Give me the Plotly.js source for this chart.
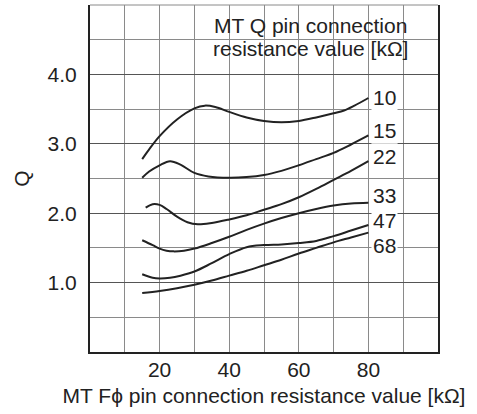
<!DOCTYPE html>
<html>
<head>
<meta charset="utf-8">
<script src="https://cdn.plot.ly/plotly-3.0.1.min.js"></script>
<style>html,body{margin:0;padding:0;background:#fff;}#chart{width:477px;height:414px;}</style>
</head>
<body>
<div id="chart"></div>
<script>
const seriesNames = ["10", "15", "22", "33", "47", "68"];

const x10 = [15, 17, 20, 25, 30, 33, 36, 40, 45, 50, 55, 60, 65, 70, 73, 76, 80];
const y10 = [2.78, 2.92, 3.11, 3.35, 3.51, 3.55, 3.53, 3.46, 3.38, 3.33, 3.31, 3.33, 3.38, 3.44, 3.48, 3.55, 3.66];

const x15 = [15, 17, 20, 23, 26, 30, 34, 40, 45, 50, 55, 60, 65, 70, 75, 80];
const y15 = [2.51, 2.60, 2.69, 2.75, 2.70, 2.58, 2.53, 2.51, 2.52, 2.55, 2.61, 2.69, 2.78, 2.87, 2.99, 3.12];

const x22 = [16, 18, 20, 22, 25, 28, 31, 35, 40, 45, 50, 55, 60, 65, 70, 75, 80];
const y22 = [2.08, 2.13, 2.12, 2.06, 1.95, 1.87, 1.84, 1.86, 1.91, 1.97, 2.05, 2.13, 2.23, 2.35, 2.48, 2.61, 2.75];

const x33 = [15, 18, 20, 22, 24, 27, 30, 35, 40, 45, 50, 55, 60, 65, 70, 75, 80];
const y33 = [1.61, 1.54, 1.49, 1.46, 1.45, 1.46, 1.49, 1.57, 1.66, 1.76, 1.85, 1.93, 2.00, 2.06, 2.11, 2.14, 2.15];

const x47 = [15, 18, 20, 23, 26, 30, 35, 40, 45, 50, 55, 60, 65, 70, 75, 80];
const y47 = [1.12, 1.07, 1.06, 1.07, 1.10, 1.16, 1.28, 1.41, 1.51, 1.54, 1.55, 1.57, 1.60, 1.67, 1.75, 1.83];

const x68 = [15, 20, 25, 30, 35, 40, 45, 50, 55, 60, 65, 70, 75, 80];
const y68 = [0.85, 0.88, 0.92, 0.97, 1.03, 1.10, 1.17, 1.25, 1.33, 1.42, 1.50, 1.58, 1.65, 1.72];

const labelY = [3.67, 3.19, 2.81, 2.25, 1.90, 1.54];

const xTickVals = [20, 40, 60, 80];
const yTickVals = [1, 2, 3, 4];
const yTickText = ["1.0", "2.0", "3.0", "4.0"];

const legendTitleLines = ["MT Q pin connection", "resistance value [kΩ]"];
const xTitle = "MT Fϕ pin connection resistance value [kΩ]";
const yTitle = "Q";

const xs = [x10, x15, x22, x33, x47, x68];
const ys = [y10, y15, y22, y33, y47, y68];

const FONT = "Liberation Sans, Arial, Helvetica, sans-serif";
const FS = 21;
const INK = "#222";

const traces = seriesNames.map((n, i) => ({
  type: "scatter", mode: "lines", name: n,
  x: xs[i], y: ys[i],
  line: {shape: "spline", smoothing: 1, color: INK, width: 2},
  hoverinfo: "skip", showlegend: false
}));

const annotations = seriesNames.map((n, i) => ({
  x: xs[i][xs[i].length - 1], y: labelY[i], xref: "x", yref: "y",
  text: n, showarrow: false, xanchor: "left", yanchor: "middle",
  xshift: 3, bgcolor: "#fff", borderpad: 1,
  font: {family: FONT, size: FS, color: INK}
}));
const legendY = [0.942, 0.876];
legendTitleLines.forEach((t, i) => annotations.push({
  xref: "paper", yref: "paper", x: 0.635, y: legendY[i], xanchor: "center", yanchor: "middle",
  text: t, showarrow: false,
  font: {family: FONT, size: FS, color: INK}
}));

const layout = {
  width: 477, height: 414,
  margin: {l: 90, r: 39, t: 5, b: 62},
  paper_bgcolor: "#fff", plot_bgcolor: "#fff",
  font: {family: FONT, size: FS, color: INK},
  showlegend: false,
  xaxis: {
    range: [0, 100], tickmode: "array", tickvals: xTickVals,
    showgrid: true, gridcolor: "#8a8a8a", gridwidth: 1,
    minor: {dtick: 10, showgrid: true, gridcolor: "#8a8a8a", gridwidth: 1},
    zeroline: false, showline: true, linecolor: "#222", linewidth: 2,
    ticks: "", ticklabelstandoff: -2,
    title: {text: xTitle, font: {family: FONT, size: FS, color: INK}, standoff: 8}
  },
  yaxis: {
    range: [0, 5], tickmode: "array", tickvals: yTickVals, ticktext: yTickText,
    showgrid: true, gridcolor: "#555", gridwidth: 1,
    minor: {dtick: 0.5, showgrid: true, gridcolor: "#8a8a8a", gridwidth: 1},
    zeroline: false, showline: true, mirror: true, linecolor: "#222", linewidth: 2,
    ticks: "", ticklabelstandoff: 7,
    title: {text: yTitle, font: {family: FONT, size: FS, color: INK}, standoff: 12}
  },
  shapes: [
    {type: "line", xref: "paper", yref: "paper", x0: 0, x1: 1, y0: 1, y1: 1,
     line: {color: "#8a8a8a", width: 1}, layer: "below"},
    {type: "rect", xref: "paper", yref: "paper", x0: 0.305, x1: 0.997, y0: 0.837, y1: 0.997,
     fillcolor: "#fff", line: {width: 0}, layer: "between"}
  ],
  annotations: annotations
};

Plotly.newPlot("chart", traces, layout, {staticPlot: true, displayModeBar: false});
</script>
</body>
</html>
